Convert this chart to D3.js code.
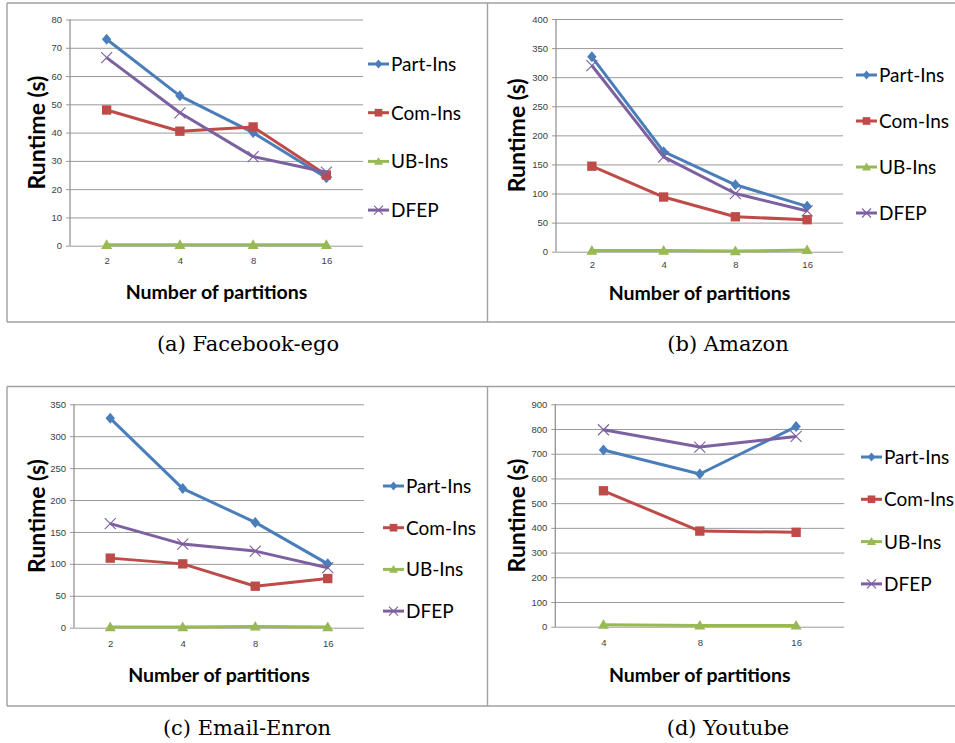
<!DOCTYPE html>
<html>
<head>
<meta charset="utf-8">
<script src="https://cdn.jsdelivr.net/npm/d3@7"></script>
<style>
  body { margin: 0; background: #fff; }
  svg { display: block; }
  .tick text { font-family: "Liberation Sans", Arial, sans-serif; font-size: 9.5px; fill: #404040; }
  .grid .tick line { stroke: #9a9a9a; stroke-width: 1; }
  .axis-title { font-family: Lato, "Liberation Sans", sans-serif; font-weight: bold; fill: #000; }
  .legend text { font-family: Lato, "Liberation Sans", sans-serif; font-size: 19px; fill: #000; }
  .caption { font-family: "DejaVu Serif", serif; font-size: 21px; fill: #000; }
</style>
</head>
<body>
<script>
// series names and colours (Excel 2007 defaults)
const seriesNames = ["Part-Ins", "Com-Ins", "UB-Ins", "DFEP"];
const seriesColors = ["#4a7ebb", "#be4b48", "#98b954", "#7d60a0"];
const seriesMarkers = ["diamond", "square", "triangle", "cross"];

const partitionsA = ["2", "4", "8", "16"];
const partitionsD = ["4", "8", "16"];

// (a) Facebook-ego
const facebookPartIns = [73, 53, 40, 24];
const facebookComIns = [48, 40.5, 42, 25];
const facebookUBIns = [0.3, 0.3, 0.3, 0.3];
const facebookDFEP = [66.5, 47, 31.5, 26];
const facebookTicks = [0, 10, 20, 30, 40, 50, 60, 70, 80];

// (b) Amazon
const amazonPartIns = [335, 172, 115, 78];
const amazonComIns = [147, 94, 60, 55];
const amazonUBIns = [2, 2, 1, 3];
const amazonDFEP = [320, 163, 100, 70];
const amazonTicks = [0, 50, 100, 150, 200, 250, 300, 350, 400];

// (c) Email-Enron
const enronPartIns = [328, 218, 165, 100];
const enronComIns = [109, 100, 65, 77];
const enronUBIns = [1, 1, 2, 1];
const enronDFEP = [163, 131, 120, 94];
const enronTicks = [0, 50, 100, 150, 200, 250, 300, 350];

// (d) Youtube
const youtubePartIns = [715, 618, 810];
const youtubeComIns = [550, 387, 382];
const youtubeUBIns = [8, 5, 5];
const youtubeDFEP = [797, 727, 770];
const youtubeTicks = [0, 100, 200, 300, 400, 500, 600, 700, 800, 900];

const W = 955, H = 743;
const svg = d3.select("body").append("svg")
  .attr("width", W).attr("height", H);

// frame of the 2x2 table
const frame = svg.append("g").attr("stroke", "#a0a0a0").attr("stroke-width", 1.4);
[[7, 3, 956, 3], [7, 322, 956, 322], [7, 386.5, 956, 386.5], [7, 706, 956, 706],
 [7, 3, 7, 322], [487.5, 3, 487.5, 322], [7, 386.5, 7, 706], [487.5, 386.5, 487.5, 706]]
  .forEach(l => frame.append("line").attr("x1", l[0]).attr("y1", l[1]).attr("x2", l[2]).attr("y2", l[3]));

const panels = [
  { cats: partitionsA, series: [facebookPartIns, facebookComIns, facebookUBIns, facebookDFEP], ticks: facebookTicks,
    x0: 70, x1: 363, yTop: 19.5, yBot: 245.7, legX: 368, legY: 64, legStep: 48.7, yTitleX: 37, xTitleY: 299, xTickY: 263,
    caption: "(a) Facebook-ego", capX: 248, capY: 351 },
  { cats: partitionsA, series: [amazonPartIns, amazonComIns, amazonUBIns, amazonDFEP], ticks: amazonTicks,
    x0: 556, x1: 843, yTop: 19, yBot: 251.7, legX: 856, legY: 75, legStep: 46, yTitleX: 517, xTitleY: 300, xTickY: 267,
    caption: "(b) Amazon", capX: 728, capY: 351 },
  { cats: partitionsA, series: [enronPartIns, enronComIns, enronUBIns, enronDFEP], ticks: enronTicks,
    x0: 74, x1: 364, yTop: 404.3, yBot: 627.7, legX: 383, legY: 486, legStep: 41.7, yTitleX: 37, xTitleY: 682, xTickY: 646,
    caption: "(c) Email-Enron", capX: 247, capY: 735 },
  { cats: partitionsD, series: [youtubePartIns, youtubeComIns, youtubeUBIns, youtubeDFEP], ticks: youtubeTicks,
    x0: 555.3, x1: 844.3, yTop: 404.3, yBot: 626.7, legX: 861, legY: 457, legStep: 42.3, yTitleX: 517, xTitleY: 682, xTickY: 645,
    caption: "(d) Youtube", capX: 728, capY: 735 }
];

function drawMarker(g, kind, cx, cy, color, s) {
  if (kind === "diamond") {
    g.append("path").attr("d", `M${cx},${cy - s}L${cx + s * 0.85},${cy}L${cx},${cy + s}L${cx - s * 0.85},${cy}Z`).attr("fill", color);
  } else if (kind === "square") {
    g.append("rect").attr("x", cx - s * 0.85).attr("y", cy - s * 0.85).attr("width", s * 1.7).attr("height", s * 1.7).attr("fill", color);
  } else if (kind === "triangle") {
    g.append("path").attr("d", `M${cx},${cy - s}L${cx + s},${cy + s * 0.75}L${cx - s},${cy + s * 0.75}Z`).attr("fill", color);
  } else {
    g.append("path").attr("d", `M${cx - s},${cy - s}L${cx + s},${cy + s}M${cx - s},${cy + s}L${cx + s},${cy - s}`)
      .attr("stroke", color).attr("stroke-width", 1.1).attr("fill", "none");
  }
}

panels.forEach(p => {
  const g = svg.append("g");
  const x = d3.scalePoint().domain(p.cats).range([p.x0, p.x1]).padding(0.5);
  const y = d3.scaleLinear().domain([0, d3.max(p.ticks)]).range([p.yBot, p.yTop]);
  const w = p.x1 - p.x0;

  // gridlines + y tick labels
  const grid = g.append("g").attr("class", "grid")
    .attr("transform", `translate(${p.x0 - 4},0)`)
    .call(d3.axisLeft(y).tickValues(p.ticks).tickSizeInner(-(w + 4)).tickSizeOuter(0).tickPadding(4));
  grid.select(".domain").remove();

  // y axis line
  g.append("line").attr("x1", p.x0).attr("x2", p.x0).attr("y1", p.yTop).attr("y2", p.yBot)
    .attr("stroke", "#8c8c8c").attr("stroke-width", 1.2);

  // x tick labels
  const xa = g.append("g").attr("transform", `translate(0,${p.xTickY - 9})`)
    .call(d3.axisBottom(x).tickSize(0).tickPadding(3));
  xa.select(".domain").remove();

  // titles
  g.append("text").attr("class", "axis-title").attr("font-size", 23)
    .attr("transform", `translate(${p.yTitleX + 8},${(p.yTop + p.yBot) / 2}) rotate(-90)`)
    .attr("text-anchor", "middle").text("Runtime (s)");
  g.append("text").attr("class", "axis-title").attr("font-size", 19.5)
    .attr("x", (p.x0 + p.x1) / 2).attr("y", p.xTitleY).attr("text-anchor", "middle")
    .text("Number of partitions");

  // series
  const line = d3.line().x((d, i) => x(p.cats[i])).y(d => y(d));
  p.series.forEach((vals, si) => {
    const sg = g.append("g");
    sg.append("path").datum(vals).attr("d", line)
      .attr("fill", "none").attr("stroke", seriesColors[si]).attr("stroke-width", 3)
      .attr("stroke-linejoin", "round");
    vals.forEach((v, i) => drawMarker(sg, seriesMarkers[si], x(p.cats[i]), y(v), seriesColors[si], 5.5));
  });

  // legend
  const leg = g.append("g").attr("class", "legend");
  seriesNames.forEach((name, si) => {
    const ly = p.legY + si * p.legStep;
    leg.append("line").attr("x1", p.legX).attr("x2", p.legX + 21).attr("y1", ly).attr("y2", ly)
      .attr("stroke", seriesColors[si]).attr("stroke-width", 3);
    drawMarker(leg, seriesMarkers[si], p.legX + 10.5, ly, seriesColors[si], 4.5);
    leg.append("text").attr("x", p.legX + 23).attr("y", ly + 7).text(name);
  });

  // caption
  svg.append("text").attr("class", "caption").attr("x", p.capX).attr("y", p.capY)
    .attr("text-anchor", "middle").text(p.caption);
});
</script>
</body>
</html>
